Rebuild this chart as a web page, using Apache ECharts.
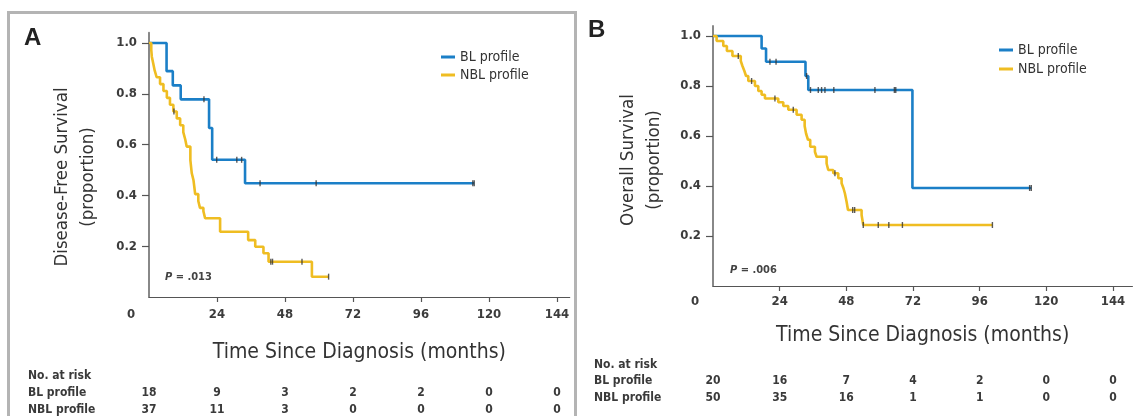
<!DOCTYPE html>
<html>
<head>
<meta charset="utf-8">
<script src="https://cdn.jsdelivr.net/npm/echarts@6/dist/echarts.min.js"></script>
<style>
  html, body { margin: 0; padding: 0; background: #fff; }
  #chart { width: 1144px; height: 416px; }
</style>
</head>
<body>
<div id="chart"></div>
<script>
// ---------- data ----------
const monthTicks = [0, 24, 48, 72, 96, 120, 144];
const yTicks = [0.2, 0.4, 0.6, 0.8, 1.0];

// Panel A: disease-free survival (step times in months, survival after each step)
const dfsBL_t = [0, 6.2, 8.4, 11.2, 21.2, 22.3, 33.9, 114.8];
const dfsBL_s = [1.0, 0.889, 0.833, 0.778, 0.665, 0.54, 0.448, 0.448];
const dfsBL_censor = [19.4, 23.9, 31.0, 32.7, 39.2, 59.0, 114.3, 114.8];

const dfsNBL_t = [0, 0.8, 1.0, 1.5, 2.0, 2.7, 3.9, 5.1, 6.3, 7.4, 8.6, 9.8, 11.0, 12.1, 12.8, 13.3, 14.6, 15.1, 15.7, 16.0, 16.3, 17.4, 18.0, 19.2, 19.8, 25.1, 35.0, 37.5, 40.4, 42.2, 57.5, 63.4];
const dfsNBL_s = [1.0, 0.973, 0.946, 0.919, 0.892, 0.865, 0.838, 0.811, 0.784, 0.757, 0.730, 0.703, 0.676, 0.649, 0.620, 0.592, 0.539, 0.487, 0.460, 0.433, 0.405, 0.378, 0.351, 0.338, 0.310, 0.257, 0.224, 0.198, 0.172, 0.139, 0.080, 0.080];
const dfsNBL_censor = [8.8, 43.0, 43.6, 54.0, 63.4];

const riskA_BL = [18, 9, 3, 2, 2, 0, 0];
const riskA_NBL = [37, 11, 3, 0, 0, 0, 0];

// Panel B: overall survival
const osBL_t = [0, 17.5, 19.1, 33.3, 34.3, 71.8, 114.6];
const osBL_s = [1.0, 0.95, 0.897, 0.84, 0.784, 0.392, 0.392];
const osBL_censor = [20.5, 22.7, 33.7, 35.1, 37.9, 39.1, 40.3, 43.5, 58.3, 65.3, 65.8, 114.0, 114.6];

const osNBL_t = [0, 1.3, 3.7, 5.0, 7.0, 10.0, 10.6, 11.3, 11.9, 12.7, 15.1, 16.3, 17.5, 18.7, 23.5, 25.3, 27.1, 30.1, 31.9, 33.0, 33.5, 34.2, 35.0, 36.7, 37.3, 40.9, 41.5, 43.3, 45.1, 46.3, 47.0, 47.5, 48.1, 48.6, 53.5, 54.1, 100.6];
const osNBL_s = [1.0, 0.98, 0.96, 0.94, 0.92, 0.90, 0.88, 0.86, 0.84, 0.82, 0.80, 0.78, 0.765, 0.75, 0.735, 0.72, 0.705, 0.685, 0.665, 0.64, 0.61, 0.585, 0.557, 0.537, 0.517, 0.49, 0.464, 0.451, 0.431, 0.411, 0.39, 0.37, 0.337, 0.304, 0.284, 0.244, 0.244];
const osNBL_censor = [9.1, 13.9, 22.3, 28.9, 43.9, 50.3, 51.0, 54.1, 59.5, 63.3, 68.2, 100.6];

const riskB_BL = [20, 16, 7, 4, 2, 0, 0];
const riskB_NBL = [50, 35, 16, 1, 1, 0, 0];

const seriesNames = ['BL profile', 'NBL profile'];
const pValues = ['.013', '.006'];

// ---------- helpers ----------
const BLUE = '#1b7fc7';
const YELLOW = '#efbd22';
const NARROW = "'Liberation Sans Narrow', 'Arial Narrow', 'DejaVu Sans Condensed', sans-serif";

function zip(t, s) { return t.map((v, i) => [v, s[i]]); }
function survAt(t, s, x) {
  let v = s[0];
  for (let i = 0; i < t.length; i++) { if (t[i] <= x) v = s[i]; }
  return v;
}
function censorPts(t, s, c) { return c.map(x => [x, survAt(t, s, x)]); }

function mainX(gridIndex, max, labelMargin, nameGap) {
  return {
    type: 'value', gridIndex, min: 0, max,
    name: 'Time Since Diagnosis (months)', nameLocation: 'middle', nameGap,
    nameTextStyle: { fontFamily: NARROW, fontSize: 21, color: '#333' },
    axisLine: { show: true, onZero: false, lineStyle: { color: '#555', width: 1.2 } },
    axisTick: { show: true, length: 5, customValues: monthTicks.slice(1), lineStyle: { color: '#555', width: 1.2 } },
    axisLabel: {
      customValues: monthTicks, margin: labelMargin,
      fontFamily: NARROW, fontSize: 13, fontWeight: 'bold', color: '#3c3c3c',
      formatter: v => v === 0 ? '{z|0}' : String(v),
      rich: { z: { padding: [0, 36, 0, 0], fontFamily: NARROW, fontSize: 13, fontWeight: 'bold', color: '#3c3c3c' } }
    },
    splitLine: { show: false }
  };
}
function riskX(gridIndex, max, offset, bl, nbl) {
  return {
    type: 'value', gridIndex, min: 0, max, position: 'bottom', offset,
    axisLine: { show: false }, axisTick: { show: false }, splitLine: { show: false },
    axisLabel: {
      customValues: monthTicks, margin: 0, verticalAlign: 'top', lineHeight: 16.5,
      fontFamily: NARROW, fontSize: 12, fontWeight: 'bold', color: '#3a3a3a',
      formatter: v => { const i = monthTicks.indexOf(v); return bl[i] + '\n' + nbl[i]; }
    }
  };
}
function mainY(gridIndex) {
  return {
    type: 'value', gridIndex, min: 0, max: 1.04,
    axisLine: { show: true, onZero: false, lineStyle: { color: '#888', width: 2 } },
    axisTick: { show: true, length: 7, customValues: yTicks, lineStyle: { color: '#555', width: 1.2 } },
    axisLabel: {
      customValues: yTicks, margin: 12,
      fontFamily: NARROW, fontSize: 13, fontWeight: 'bold', color: '#3c3c3c',
      formatter: v => v.toFixed(1)
    },
    splitLine: { show: false }
  };
}
function curve(name, color, xi, t, s) {
  return {
    type: 'line', name, xAxisIndex: xi, yAxisIndex: xi, step: 'end',
    data: zip(t, s), showSymbol: false, symbol: 'none',
    lineStyle: { color, width: 2.6 }, itemStyle: { color }, z: 3
  };
}
function censors(xi, pts) {
  return {
    type: 'scatter', name: 'censored', xAxisIndex: xi, yAxisIndex: xi,
    data: pts, symbol: 'rect', symbolSize: [1.4, 6],
    itemStyle: { color: '#333' }, z: 5, silent: true
  };
}
function legend(left, top, gap) {
  return {
    data: seriesNames, orient: 'vertical', left, top, itemGap: gap, padding: 0,
    itemWidth: 14, itemHeight: 3, icon: 'rect', selectedMode: false,
    textStyle: { fontFamily: NARROW, fontSize: 14, color: '#333' }
  };
}
function txt(x, y, text, size, opts) {
  return { type: 'text', x, y, style: Object.assign({ text, fontFamily: NARROW, fontSize: size, fill: '#333', verticalAlign: 'middle' }, opts || {}) };
}
const riskLbl = { fontWeight: 'bold', fill: '#3a3a3a' };

const chart = echarts.init(document.getElementById('chart'), null, { renderer: 'canvas' });
chart.setOption({
  animation: false,
  backgroundColor: '#fff',
  grid: [
    { left: 149, top: 32.8, width: 420.7, height: 264.2, outerBoundsMode: 'none', containLabel: false },
    { left: 713, top: 26, width: 419.4, height: 260, outerBoundsMode: 'none', containLabel: false }
  ],
  xAxis: [
    mainX(0, 148.5, 11, 45),
    mainX(1, 151, 9.5, 39),
    riskX(0, 148.5, 88, riskA_BL, riskA_NBL),
    riskX(1, 151, 87, riskB_BL, riskB_NBL)
  ],
  yAxis: [mainY(0), mainY(1)],
  legend: [legend(441, 50, 4), legend(999, 43, 5)],
  series: [
    curve(seriesNames[0], BLUE, 0, dfsBL_t, dfsBL_s),
    curve(seriesNames[1], YELLOW, 0, dfsNBL_t, dfsNBL_s),
    censors(0, censorPts(dfsBL_t, dfsBL_s, dfsBL_censor).concat(censorPts(dfsNBL_t, dfsNBL_s, dfsNBL_censor))),
    curve(seriesNames[0], BLUE, 1, osBL_t, osBL_s),
    curve(seriesNames[1], YELLOW, 1, osNBL_t, osNBL_s),
    censors(1, censorPts(osBL_t, osBL_s, osBL_censor).concat(censorPts(osNBL_t, osNBL_s, osNBL_censor)))
  ],
  graphic: [
    { type: 'rect', shape: { x: 8.5, y: 12.5, width: 567, height: 430 }, style: { fill: 'none', stroke: '#b4b4b4', lineWidth: 3 }, silent: true },
    txt(24, 38, 'A', 24, { fontFamily: "'Liberation Sans', Arial, sans-serif", fontWeight: 'bold', fill: '#222' }),
    txt(588, 30, 'B', 24, { fontFamily: "'Liberation Sans', Arial, sans-serif", fontWeight: 'bold', fill: '#222' }),
    { type: 'text', x: 75, y: 177, rotation: Math.PI / 2,
      style: { text: 'Disease-Free Survival\n(proportion)', fontFamily: NARROW, fontSize: 18.5, lineHeight: 26, fill: '#333', align: 'center', verticalAlign: 'middle' } },
    { type: 'text', x: 641, y: 160, rotation: Math.PI / 2,
      style: { text: 'Overall Survival\n(proportion)', fontFamily: NARROW, fontSize: 18.5, lineHeight: 26, fill: '#333', align: 'center', verticalAlign: 'middle' } },
    { type: 'text', x: 165, y: 277, style: { text: '{i|P} = ' + pValues[0], fontFamily: NARROW, fontSize: 11, fontWeight: 'bold', fill: '#444', verticalAlign: 'middle', rich: { i: { fontStyle: 'italic', fontFamily: NARROW, fontSize: 11, fontWeight: 'bold', fill: '#444' } } } },
    { type: 'text', x: 730, y: 270, style: { text: '{i|P} = ' + pValues[1], fontFamily: NARROW, fontSize: 11, fontWeight: 'bold', fill: '#444', verticalAlign: 'middle', rich: { i: { fontStyle: 'italic', fontFamily: NARROW, fontSize: 11, fontWeight: 'bold', fill: '#444' } } } },
    txt(28, 376, 'No. at risk', 12, riskLbl),
    txt(28, 393, seriesNames[0], 12, riskLbl),
    txt(28, 409.5, seriesNames[1], 12, riskLbl),
    txt(594, 365, 'No. at risk', 12, riskLbl),
    txt(594, 381, seriesNames[0], 12, riskLbl),
    txt(594, 397.5, seriesNames[1], 12, riskLbl)
  ]
});
</script>
</body>
</html>
